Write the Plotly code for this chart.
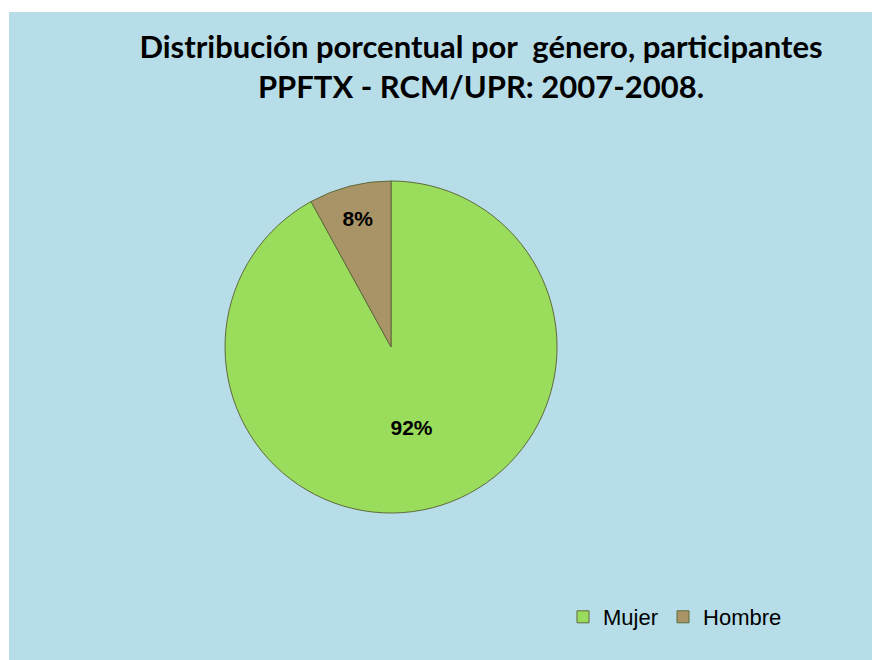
import plotly.graph_objects as go

labels = ['Mujer', 'Hombre']
values = [92, 8]
colors = ['#9ADC5C', '#A89466']

fig = go.Figure()
fig.add_trace(go.Pie(
    labels=labels,
    values=values,
    sort=False,
    direction='clockwise',
    rotation=0,
    marker=dict(colors=colors, line=dict(color='#5F6B3A', width=1)),
    texttemplate='<b>%{percent:.0%}</b>',
    textposition='inside',
    insidetextorientation='horizontal',
    textfont=dict(family='Liberation Sans', size=21, color='black'),
    domain=dict(x=[0.2466, 0.6239], y=[0.2348, 0.7379]),
    hoverinfo='label+percent',
))

fig.add_shape(type='rect', xref='paper', yref='paper',
              x0=1/880, x1=1, y0=0, y1=1-4/660,
              fillcolor='#B7DDE8', line=dict(width=0), layer='below')

fig.update_layout(
    width=880, height=660,
    margin=dict(l=0, r=0, t=0, b=0),
    paper_bgcolor='white',
    title=dict(
        text='<b>Distribución porcentual por  género, participantes<br>PPFTX - RCM/UPR: 2007-2008.</b>',
        x=473/880, xanchor='center', y=1-50/660, yanchor='top',
        font=dict(family='Lato', size=31, color='black'),
    ),
    legend=dict(
        orientation='h', x=555/880, xanchor='left', y=1-609/660, yanchor='middle',
        font=dict(family='Liberation Sans', size=22, color='black'),
        bgcolor='rgba(0,0,0,0)', itemwidth=30,
    ),
)

fig.write_html('out.html')
